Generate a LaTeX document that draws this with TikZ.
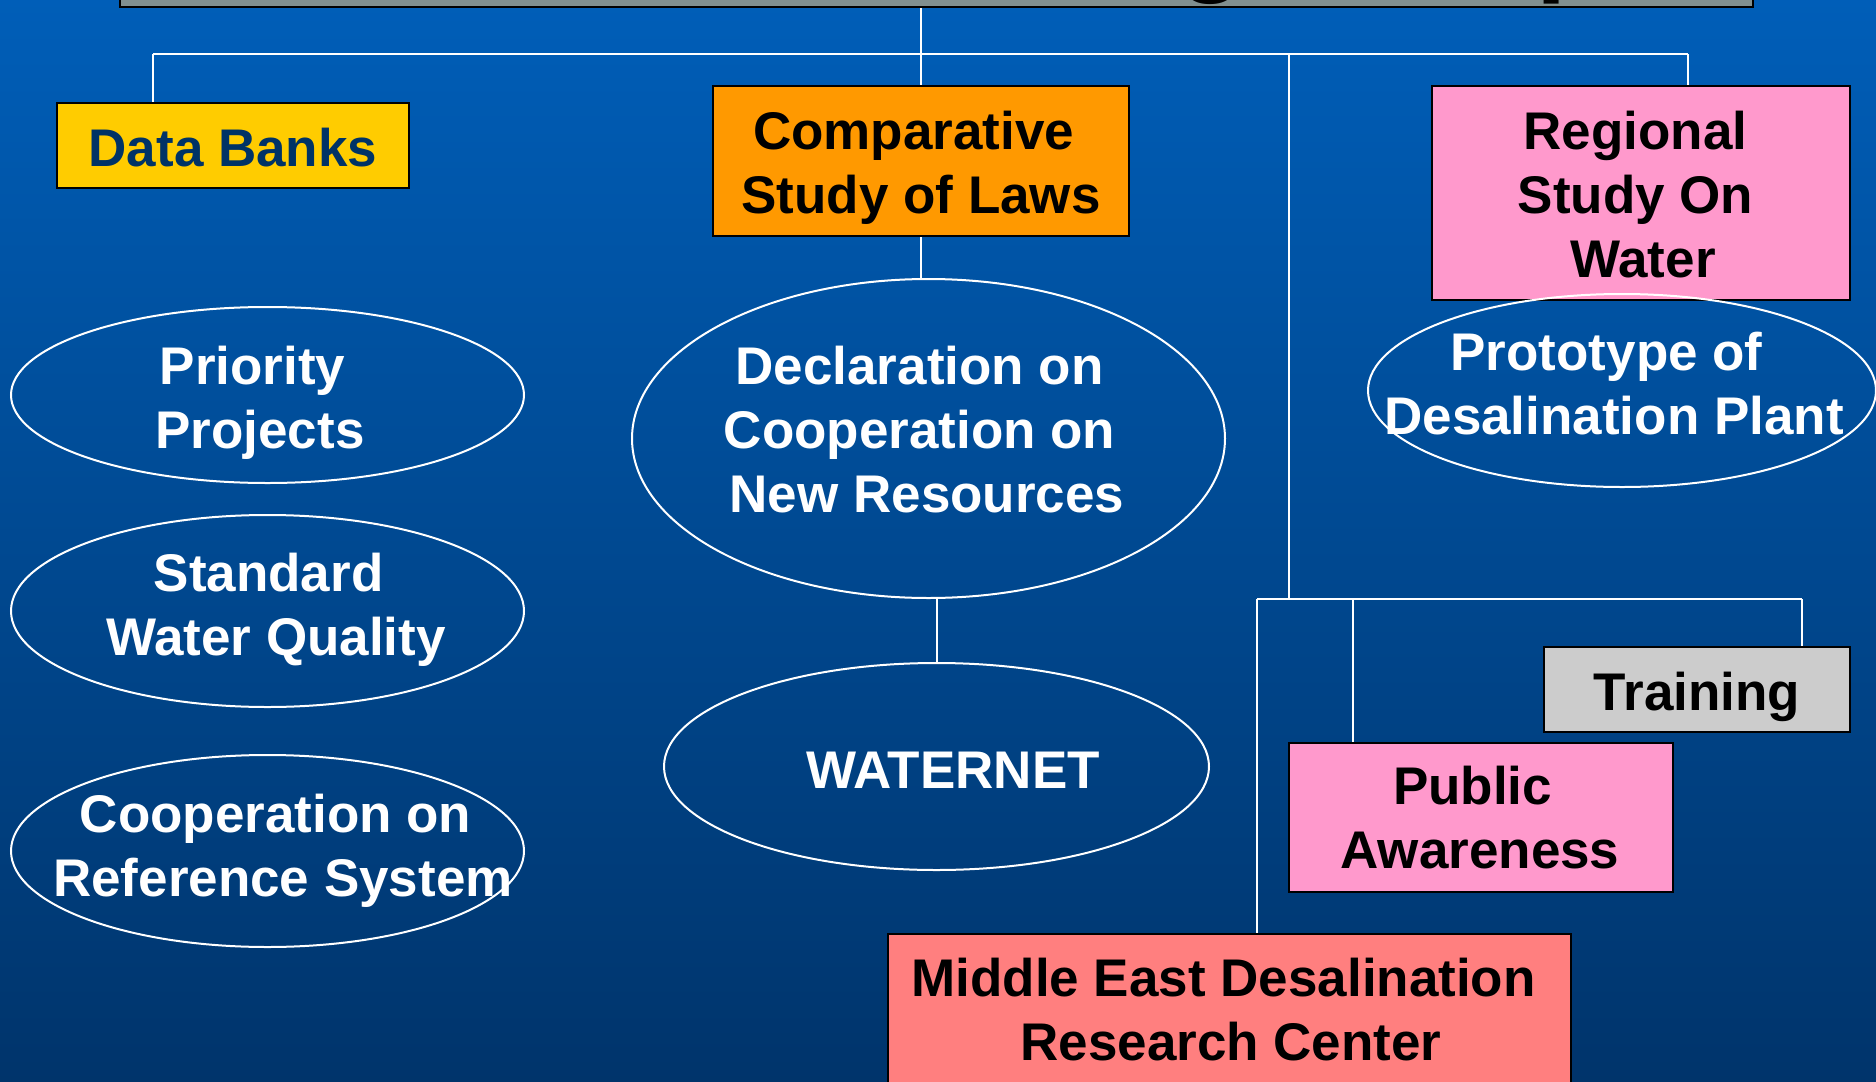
\documentclass[tikz,border=0pt]{standalone}
\usepackage{fontspec}
\setmainfont{Liberation Sans}
\usetikzlibrary{shapes.geometric}
\definecolor{bgtop}{HTML}{005EB8}
\definecolor{bgbot}{HTML}{00346B}
\definecolor{titlegray}{HTML}{808F8F}
\definecolor{dbyellow}{HTML}{FFCC00}
\definecolor{dbtext}{HTML}{003366}
\definecolor{cmporange}{HTML}{FF9900}
\definecolor{boxpink}{HTML}{FF99CC}
\definecolor{trngray}{HTML}{CCCCCC}
\definecolor{medsalmon}{HTML}{FF7F7F}
\newcommand{\tsp}{\kern.28em}
\newcommand{\lstrut}{\rule[-.25em]{0pt}{1em}}
\tikzset{
  boxshape/.style={rectangle, draw=black, line width=1.25pt, inner sep=0pt},
  oval/.style={ellipse, draw=white, line width=1pt, inner sep=0pt},
  txt/.style={font=\fontsize{26.5}{32}\selectfont\bfseries, align=center, inner sep=0pt,
    execute at begin node=\lstrut, execute at end node=\lstrut},
  wire/.style={draw=white, line width=1pt}
}
\begin{document}
\begin{tikzpicture}[x=0.5pt,y=-0.5pt]
\useasboundingbox (0,0) rectangle (1876,1082);
\shade[top color=bgtop, bottom color=bgbot] (0,0) rectangle (1876,1082);
\begin{scope}
\clip (0,0) rectangle (1876,1082);
% title
\node[boxshape, fill=titlegray, minimum width=816.5pt, minimum height=83.5pt] (title) at (936.5,-76.5) {};
\begin{scope}
\clip (120,-160) rectangle (1753,6);
\node[font=\fontsize{54.5}{60}\selectfont\bfseries, anchor=base east, inner sep=0pt] (ttl) at (1603,-19) {Working Group};
\end{scope}
% boxes
\node[boxshape, fill=dbyellow, minimum width=176pt, minimum height=42.5pt] (db) at (233,145.5) {};
\node[boxshape, fill=cmporange, minimum width=208pt, minimum height=75pt] (cmp) at (921,161) {};
\node[boxshape, fill=boxpink, minimum width=209pt, minimum height=107pt] (reg) at (1641,193) {};
\node[boxshape, fill=trngray, minimum width=153pt, minimum height=42.5pt] (trn) at (1697,689.5) {};
\node[boxshape, fill=boxpink, minimum width=192pt, minimum height=74.5pt] (pub) at (1481,817.5) {};
\node[boxshape, fill=medsalmon, minimum width=341.5pt, minimum height=90pt] (med) at (1229.5,1024) {};
% ellipses
\node[oval, minimum width=256.5pt, minimum height=88pt] (e1) at (267.5,395) {};
\node[oval, minimum width=256.5pt, minimum height=96pt] (e2) at (267.5,611) {};
\node[oval, minimum width=256.5pt, minimum height=96pt] (e3) at (267.5,851) {};
\node[oval, minimum width=296.5pt, minimum height=159.5pt] (e4) at (928.5,438.5) {};
\node[oval, minimum width=272.5pt, minimum height=103.5pt] (e5) at (936.5,766.5) {};
\node[oval, minimum width=254pt, minimum height=96.5pt] (e6) at (1622,390.5) {};
% junction coordinates
\coordinate (busL) at (153,54);
\coordinate (busR) at (1688,54);
\coordinate (busM) at (1289,54);
\coordinate (sub) at (1289,599);
\coordinate (subL) at (1257,599);
\coordinate (subP) at (1353,599);
\coordinate (subR) at (1802,599);
% connectors
\draw[wire] (cmp.north |- title.south) -- (cmp.north);
\draw[wire] (busL) -- (busR);
\draw[wire] (busL) -- (busL |- db.north);
\draw[wire] (busR) -- (busR |- reg.north);
\draw[wire] (busM) -- (sub);
\draw[wire] (subL) -- (subR);
\draw[wire] (subL) -- (subL |- med.north);
\draw[wire] (subP) -- (subP |- pub.north);
\draw[wire] (subR) -- (subR |- trn.north);
\draw[wire] (cmp.south) -- (cmp.south |- e4.north);
\draw[wire] (e5.north |- e4.south) -- (e5.north);
% texts
\node[txt, text=dbtext] (tdb) at (233,152.75) {Data Banks};
\node[txt, text=black] (tcmp) at (921,168.75) {Comparative\tsp\\Study of Laws};
\node[txt, text=black] (treg) at (1643,200.75) {Regional\tsp\\Study On\tsp\\Water};
\node[txt, text=black] (ttrn) at (1697,696.75) {Training};
\node[txt, text=black] (tpub) at (1480,823.75) {Public\tsp\\Awareness};
\node[txt, text=black] (tmed) at (1231,1015.75) {Middle East Desalination\tsp\\Research Center};
\node[txt, text=white] (te1) at (260,403.75) {Priority\tsp\\Projects};
\node[txt, text=white] (te2) at (276,610.75) {Standard\tsp\\Water Quality};
\node[txt, text=white] (te3) at (283,851.75) {Cooperation on\tsp\\Reference System};
\node[txt, text=white] (te4) at (927,435.75) {Declaration on\tsp\\Cooperation on\tsp\\New Resources};
\node[txt, text=white] (te5) at (953,774.75) {WATERNET};
\node[txt, text=white] (te6) at (1614,389.75) {Prototype of\tsp\\Desalination Plant};
\end{scope}
\end{tikzpicture}
\end{document}
